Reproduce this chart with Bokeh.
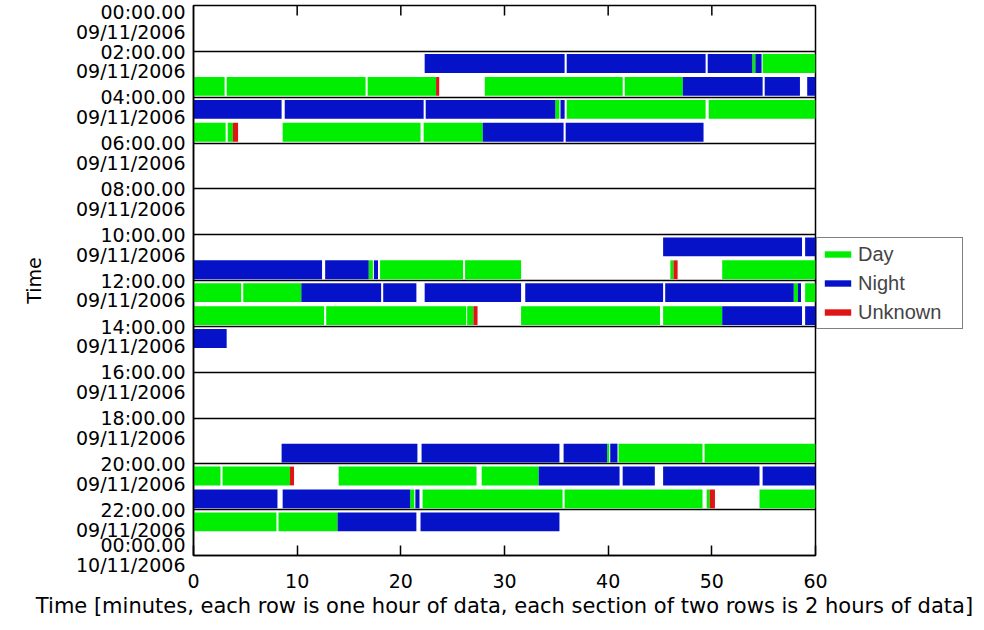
from bokeh.plotting import figure
from bokeh.models import Range1d, FixedTicker, Legend, LegendItem, ColumnDataSource
from bokeh.embed import file_html
from bokeh.resources import INLINE

# ---- data: one entry per recorded segment (hour row, start/end minute, state)
seg_hour = [2, 2, 2, 2, 2, 2,
            3, 3, 3, 3, 3, 3, 3, 3, 3,
            4, 4, 4, 4, 4, 4, 4,
            5, 5, 5, 5, 5, 5, 5,
            10, 10,
            11, 11, 11, 11, 11, 11, 11, 11, 11,
            12, 12, 12, 12, 12, 12, 12, 12, 12, 12,
            13, 13, 13, 13, 13, 13, 13, 13,
            14,
            19, 19, 19, 19, 19, 19, 19,
            20, 20, 20, 20, 20, 20, 20, 20, 20,
            21, 21, 21, 21, 21, 21, 21, 21, 21,
            22, 22, 22, 22]
seg_start = [22.3, 36.0, 49.6, 53.9, 54.2, 54.9,
             0.0, 3.2, 16.8, 23.4, 28.1, 41.6, 47.2, 55.1, 59.2,
             0.0, 8.8, 22.4, 34.9, 35.4, 36.0, 49.7,
             0.0, 3.3, 3.8, 8.6, 22.2, 27.9, 35.9,
             45.3, 59.0,
             0.0, 12.7, 16.9, 17.4, 18.0, 26.2, 46.0, 46.3, 51.0,
             0.0, 4.8, 10.4, 18.3, 22.3, 32.0, 45.5, 57.9, 58.3, 59.0,
             0.0, 12.8, 26.4, 27.0, 31.6, 45.3, 51.0, 59.0,
             0.0,
             8.5, 22.0, 35.7, 39.9, 40.2, 41.0, 49.3,
             0.0, 2.8, 9.3, 14.0, 27.8, 33.3, 41.4, 45.3, 54.9,
             0.0, 8.6, 20.9, 21.4, 22.1, 35.8, 49.5, 49.8, 54.6,
             0.0, 8.2, 13.9, 21.9]
seg_end = [35.8, 49.4, 53.9, 54.2, 54.8, 60.0,
           3.0, 16.6, 23.4, 23.7, 41.4, 47.2, 54.9, 58.5, 60.0,
           8.5, 22.2, 34.9, 35.3, 35.8, 49.4, 60.0,
           3.1, 3.8, 4.3, 21.9, 27.9, 35.7, 49.2,
           58.7, 60.0,
           12.4, 16.9, 17.3, 17.8, 26.0, 31.6, 46.3, 46.7, 60.0,
           4.6, 10.4, 18.1, 21.5, 31.6, 45.3, 57.9, 58.3, 58.6, 60.0,
           12.6, 26.3, 27.0, 27.4, 45.0, 51.0, 58.7, 60.0,
           3.2,
           21.6, 35.3, 39.9, 40.1, 40.9, 49.1, 60.0,
           2.6, 9.3, 9.7, 27.3, 33.3, 41.1, 44.5, 54.6, 60.0,
           8.1, 20.9, 21.3, 21.8, 35.6, 49.1, 49.8, 50.3, 60.0,
           8.0, 13.9, 21.5, 35.3]
seg_state = ["Night", "Night", "Night", "Day", "Night", "Day",
             "Day", "Day", "Day", "Unknown", "Day", "Day", "Night", "Night", "Night",
             "Night", "Night", "Night", "Day", "Night", "Day", "Day",
             "Day", "Day", "Unknown", "Day", "Day", "Night", "Night",
             "Night", "Night",
             "Night", "Night", "Day", "Night", "Day", "Day", "Day", "Unknown", "Day",
             "Day", "Day", "Night", "Night", "Night", "Night", "Night", "Day", "Night", "Day",
             "Day", "Day", "Day", "Unknown", "Day", "Day", "Night", "Night",
             "Night",
             "Night", "Night", "Night", "Day", "Night", "Day", "Day",
             "Day", "Day", "Unknown", "Day", "Day", "Night", "Night", "Night", "Night",
             "Night", "Night", "Day", "Night", "Day", "Day", "Day", "Unknown", "Day",
             "Day", "Day", "Night", "Night"]

states = ["Day", "Night", "Unknown"]
state_colors = ["#00ee00", "#0512c8", "#e01414"]

section_hours = [0, 2, 4, 6, 8, 10, 12, 14, 16, 18, 20, 22, 24]
section_labels = ["00:00.00\n09/11/2006", "02:00.00\n09/11/2006", "04:00.00\n09/11/2006",
                  "06:00.00\n09/11/2006", "08:00.00\n09/11/2006", "10:00.00\n09/11/2006",
                  "12:00.00\n09/11/2006", "14:00.00\n09/11/2006", "16:00.00\n09/11/2006",
                  "18:00.00\n09/11/2006", "20:00.00\n09/11/2006", "22:00.00\n09/11/2006",
                  "00:00.00\n10/11/2006"]
x_ticks = [0, 10, 20, 30, 40, 50, 60]

FONT = "DejaVu Sans"
FS = "19px"

p = figure(frame_width=622, frame_height=550,
           x_range=Range1d(0, 60), y_range=Range1d(24, 0),
           output_backend="svg", toolbar_location=None,
           min_border_left=193, min_border_top=5, min_border_right=10, min_border_bottom=0,
           x_axis_label="Time [minutes, each row is one hour of data, each section of two rows is 2 hours of data]",
           y_axis_label="Time")
p.background_fill_color = "white"
p.border_fill_color = "white"
p.outline_line_color = "black"
p.outline_line_width = 1.5

# bars
renderers = {}
for st, col in zip(states, state_colors):
    idx = [i for i, s in enumerate(seg_state) if s == st]
    src = ColumnDataSource(dict(
        left=[seg_start[i] for i in idx],
        right=[seg_end[i] for i in idx],
        top=[seg_hour[i] + 0.12 for i in idx],
        bottom=[seg_hour[i] + 0.94 for i in idx],
    ))
    renderers[st] = p.quad(left="left", right="right", top="top", bottom="bottom",
                           source=src, fill_color=col, line_color=None)

# grid: section separators
p.xgrid.visible = False
p.ygrid.ticker = FixedTicker(ticks=section_hours[1:-1])
p.ygrid.grid_line_color = "black"
p.ygrid.grid_line_width = 1.7
p.ygrid.grid_line_alpha = 1.0

# inward tick marks along the top edge (same x ticks as the bottom axis)
TOP_TICK_LEN = 0.44  # hours (~10 px)
inner = x_ticks[1:-1]
p.segment(x0=inner, y0=[0] * len(inner), x1=inner, y1=[TOP_TICK_LEN] * len(inner),
          line_color="black", line_width=1.5)

# x axis (bottom)
xa = p.xaxis[0]
xa.ticker = FixedTicker(ticks=x_ticks)
xa.major_tick_in = 10
xa.major_tick_out = 0
xa.minor_tick_line_color = None
xa.major_tick_line_width = 1.5
xa.axis_line_width = 1.5
xa.major_label_text_font = FONT
xa.major_label_text_font_size = FS
xa.major_label_text_color = "black"
xa.major_label_standoff = 18
xa.axis_label_text_font = FONT
xa.axis_label_text_font_size = "21px"
xa.axis_label_text_font_style = "normal"
xa.axis_label_text_color = "black"
xa.axis_label_standoff = 3

# y axis: two-line labels, time line centred on the section boundary
label_pos = []
for h in section_hours:
    if h == 0:
        label_pos.append(h + 0.72)
    elif h == 24:
        label_pos.append(h - 0.01)
    else:
        label_pos.append(h + 0.44)
ya = p.yaxis[0]
ya.ticker = FixedTicker(ticks=label_pos)
ya.major_label_overrides = {pos: lab for pos, lab in zip(label_pos, section_labels)}
ya.major_tick_in = 0
ya.major_tick_out = 0
ya.minor_tick_line_color = None
ya.axis_line_width = 1.5
ya.major_label_text_font = FONT
ya.major_label_text_font_size = FS
ya.major_label_text_line_height = 0.9
ya.major_label_text_color = "black"
ya.major_label_standoff = 8
ya.axis_label_text_font = FONT
ya.axis_label_text_font_size = FS
ya.axis_label_text_font_style = "normal"
ya.axis_label_text_color = "black"
ya.axis_label_standoff = 28

legend = Legend(items=[LegendItem(label=st, renderers=[renderers[st]]) for st in states],
                location=(1, 226), margin=0, padding=4, spacing=5,
                glyph_width=33, glyph_height=8, label_standoff=4,
                label_width=100, label_height=24,
                label_text_font="Liberation Sans", label_text_font_size="20px",
                border_line_color="black", border_line_width=1.2,
                background_fill_color="white", background_fill_alpha=1.0)
p.add_layout(legend, "right")

open("out.html", "w").write(file_html(p, INLINE))
